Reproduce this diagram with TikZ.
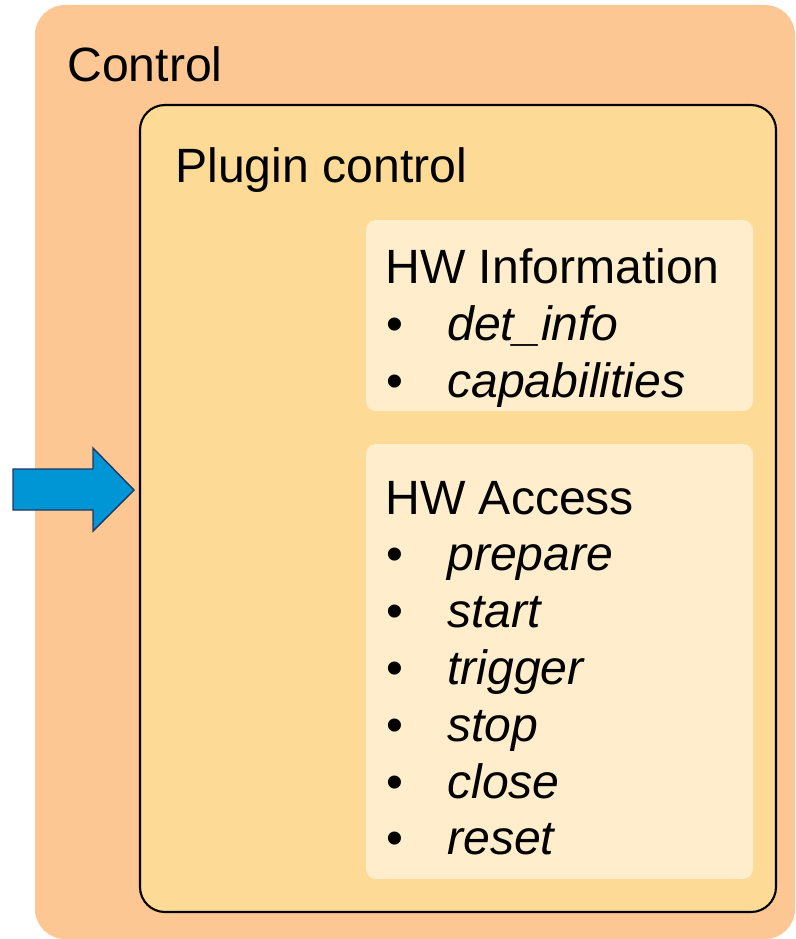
\documentclass[tikz,border=0pt]{standalone}
\usepackage{fontspec}
\setmainfont{Liberation Sans}
\usetikzlibrary{positioning}
\definecolor{ctrlfill}{RGB}{252,199,146}
\definecolor{plugfill}{RGB}{253,218,150}
\definecolor{hwfill}{RGB}{255,237,204}
\definecolor{arrowfill}{RGB}{0,149,213}
\definecolor{arrowline}{RGB}{32,56,100}
\tikzstyle{label} = [inner sep=0pt, anchor=base west, font=\fontsize{27.4pt}{32pt}\selectfont]
\tikzstyle{entry} = [label, font=\fontsize{27.4pt}{32pt}\selectfont\itshape]

\begin{document}
\begin{tikzpicture}[x=0.02cm, y=-0.02cm]
 \useasboundingbox (0,0) rectangle (795,939);
% boxes
 \fill[ctrlfill, rounded corners=0.6cm] (35,5) rectangle (795,939);
 \draw[fill=plugfill, line width=1.2pt, rounded corners=0.5cm] (140,105) rectangle (776,912);
 \fill[hwfill, rounded corners=0.2cm] (366,220) rectangle (753,411);
 \fill[hwfill, rounded corners=0.2cm] (366,444) rectangle (753,879);
% titles
 \node[label] (control) at (67,82) {Control};
 \node[label] (plugin) at (175,183) {Plugin control};
 \node[label] (info) at (385,283) {HW Information};
 \node[label] (access) at (385,514) {HW Access};
% items
 \foreach \name [count=\i] in {det\_info, capabilities} {
   \node[label] (infobul-\i) at (386,283+57*\i) {•};
   \node[entry] (infoitem-\i) at (447,283+57*\i) {\name};
 }
 \foreach \name [count=\i] in {prepare, start, trigger, stop, close, reset} {
   \node[label] (accbul-\i) at (386,514+56.8*\i) {•};
   \node[entry] (accitem-\i) at (447,514+56.8*\i) {\name};
 }
% input arrow
 \draw[fill=arrowfill, draw=arrowline, line width=0.8pt]
   (13,469) -- (93,469) -- (93,448) -- (134,490) -- (93,531) -- (93,510) -- (13,510) -- cycle;
\end{tikzpicture}
\end{document}
